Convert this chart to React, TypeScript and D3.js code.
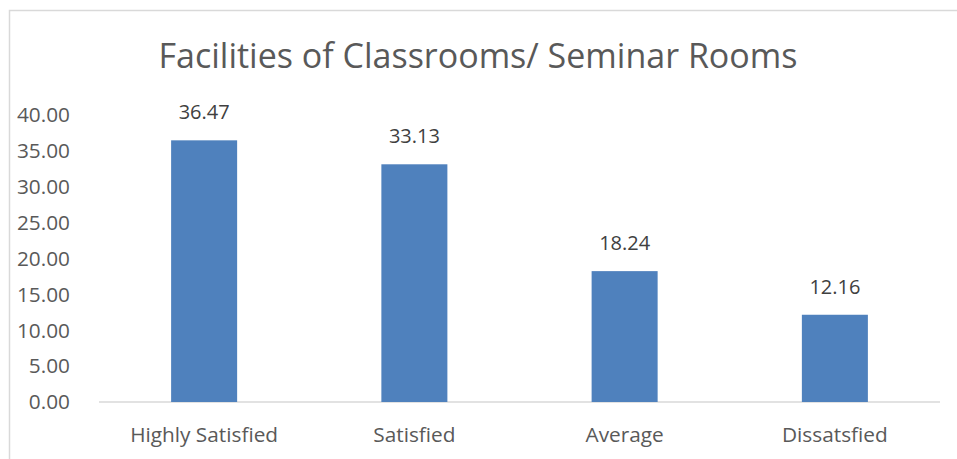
import React from 'react';
import * as d3 from 'd3';

const width = 957;
const height = 459;
const margin = { top: 115, right: 17, bottom: 57, left: 99 };

const categories = ['Highly Satisfied', 'Satisfied', 'Average', 'Dissatsfied'];
const values = [36.47, 33.13, 18.24, 12.16];
const yTicks = [0, 5, 10, 15, 20, 25, 30, 35, 40];
const title = 'Facilities of Classrooms/ Seminar Rooms';

const font = '"Open Sans", sans-serif';

export default function App() {
  const x = d3
    .scaleBand()
    .domain(categories)
    .range([margin.left, width - margin.right])
    .paddingInner(0.686)
    .paddingOuter(0.343);
  const y = d3
    .scaleLinear()
    .domain([0, 40])
    .range([height - margin.bottom, margin.top]);

  return (
    <svg
      width={width}
      height={height}
      style={{ position: 'absolute', left: 0, top: 0, fontFamily: font }}
    >
      <rect x={0} y={0} width={width} height={height} fill="#fff" />
      <rect x={9.5} y={10.5} width={width + 10} height={height + 10} fill="none" stroke="#d9d9d9" strokeWidth={1.5} />
      <text x={478} y={68} textAnchor="middle" fontSize={34} fill="#595959">
        {title}
      </text>
      {yTicks.map((t) => (
        <text key={t} x={70} y={y(t)} dy="0.35em" textAnchor="end" fontSize={20.8} fill="#595959">
          {d3.format('.2f')(t)}
        </text>
      ))}
      <line
        x1={margin.left}
        x2={width - margin.right}
        y1={y(0)}
        y2={y(0)}
        stroke="#d9d9d9"
        strokeWidth={1.5}
      />
      {categories.map((c, i) => (
        <g key={c}>
          <rect
            x={x(c)}
            y={y(values[i])}
            width={x.bandwidth()}
            height={y(0) - y(values[i])}
            fill="#4f81bd"
          />
          <text
            x={(x(c) as number) + x.bandwidth() / 2}
            y={y(values[i]) - 28}
            dy="0.35em"
            textAnchor="middle"
            fontSize={20}
            fill="#404040"
          >
            {d3.format('.2f')(values[i])}
          </text>
          <text
            x={(x(c) as number) + x.bandwidth() / 2}
            y={435}
            dy="0.35em"
            textAnchor="middle"
            fontSize={20.8}
            fill="#595959"
          >
            {c}
          </text>
        </g>
      ))}
    </svg>
  );
}
